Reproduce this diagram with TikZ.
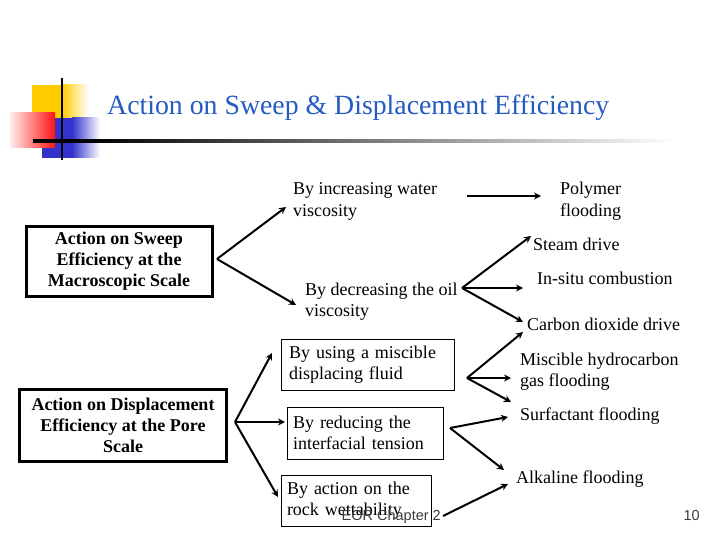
\documentclass[tikz,border=0pt]{standalone}
\usepackage{fontspec}
\setmainfont{Liberation Serif}
\newfontfamily\footfont{Liberation Sans}
\usetikzlibrary{arrows.meta}
\definecolor{titleblue}{RGB}{35,90,195}
\definecolor{logoyellow}{RGB}{255,204,0}
\definecolor{logoblue}{RGB}{51,51,204}
\definecolor{logored}{RGB}{255,20,20}
\definecolor{footgray}{RGB}{60,60,60}
\begin{document}
\begin{tikzpicture}[x=1pt,y=-1pt,
  txt/.style={anchor=base west, inner sep=0pt, align=left, font=\fontsize{18}{21}\selectfont},
  bigbox/.style={draw, line width=3pt, align=center, inner sep=0pt, font=\fontsize{18}{21}\selectfont\bfseries},
  smallbox/.style={draw, line width=1pt, align=left, inner ysep=0pt, font=\fontsize{18}{20.5}\selectfont},
  arr/.style={-{Stealth[length=7pt,width=7pt]}, line width=2pt},
  foot/.style={anchor=base east, inner sep=0pt, text=footgray, font=\footfont\fontsize{14.5}{17}\selectfont}]
\useasboundingbox (0,0) rectangle (720,540);
% logo
\fill[logoyellow] (32,85) rectangle (62,118);
\shade[left color=logoyellow, right color=white] (62,85) rectangle (88,118);
\fill[logoblue] (42,118) rectangle (72,158);
\shade[left color=logoblue, right color=white] (72,118) rectangle (100,158);
\shade[left color=logored!8, right color=logored] (10,113) rectangle (55,148);
\fill[black] (33,139.5) rectangle (90,143);
\shade[left color=black, right color=white] (90,139.5) rectangle (675,143);
\draw[line width=2.5pt, black] (62,78) -- (62,160);
% title
\node[anchor=base west, inner sep=0pt, text=titleblue, font=\fontsize{27.8}{32}\selectfont] (title) at (107,115) {Action on Sweep \& Displacement Efficiency};
% left boxes
\node[bigbox, minimum width=186pt, minimum height=70pt] (box1) at (119,261.5) {Action on Sweep\\Efficiency at the\\Macroscopic Scale};
\node[bigbox, minimum width=207pt, minimum height=72pt] (box2) at (123,425.5) {Action on Displacement\\Efficiency at the Pore\\Scale};
% middle texts (base = last line)
\node[txt] (incwater) at (293,216) {By increasing water\\viscosity};
\node[txt] (decoil) at (305,316) {By decreasing the oil\\viscosity};
\node[smallbox, inner xsep=8pt, text width=157pt, minimum height=51pt] (misc) at (367.5,364.5) {By using a miscible\\displacing fluid};
\node[smallbox, inner xsep=6pt, text width=144pt, minimum height=52pt] (ift) at (365,433) {By reducing the\\interfacial tension};
\node[smallbox, inner xsep=6pt, text width=138pt, minimum height=51pt] (wett) at (356,500.5) {By action on the\\rock wettability};
% right texts
\node[txt] (polymer) at (560,216) {Polymer\\flooding};
\node[txt] (steam) at (533,251) {Steam drive};
\node[txt] (insitu) at (537,284) {In-situ combustion};
\node[txt] (co2) at (527,330) {Carbon dioxide drive};
\node[txt] (mhc) at (520,386) {Miscible hydrocarbon\\gas flooding};
\node[txt] (surf) at (520,420) {Surfactant flooding};
\node[txt] (alk) at (516,483) {Alkaline flooding};
% footer
\node[foot] (footer) at (441,520) {EOR Chapter 2};
\node[foot] (pagenum) at (700,520) {10};
% branch points and arrow ends
\coordinate (o1) at (217,259);
\coordinate (o2) at (235,422);
\coordinate (oinc) at (467,196);
\coordinate (odec) at (462,288);
\coordinate (omisc) at (467,378);
\coordinate (oift) at (450,428);
\coordinate (owett) at (443,516);
\coordinate (tinc) at (286,207);
\coordinate (tdec) at (296,305);
\coordinate (tpoly) at (541,196);
\coordinate (tsteam) at (531,236);
\coordinate (tinsitu) at (523,288);
\coordinate (tco2) at (523,322);
\coordinate (tmisc) at (272,353);
\coordinate (tift) at (285,422);
\coordinate (twett) at (278,497);
\coordinate (tco2b) at (523,332);
\coordinate (tmhc) at (511,378);
\coordinate (tsurf) at (511,402);
\coordinate (tsurfb) at (508,417);
\coordinate (talk) at (504,470);
\coordinate (talkb) at (508,484);
% arrows
\draw[arr] (o1) -- (tinc);
\draw[arr] (o1) -- (tdec);
\draw[arr] (oinc) -- (tpoly);
\draw[arr] (odec) -- (tsteam);
\draw[arr] (odec) -- (tinsitu);
\draw[arr] (odec) -- (tco2);
\draw[arr] (o2) -- (tmisc);
\draw[arr] (o2) -- (tift);
\draw[arr] (o2) -- (twett);
\draw[arr] (omisc) -- (tco2b);
\draw[arr] (omisc) -- (tmhc);
\draw[arr] (omisc) -- (tsurf);
\draw[arr] (oift) -- (tsurfb);
\draw[arr] (oift) -- (talk);
\draw[arr] (owett) -- (talkb);
\end{tikzpicture}
\end{document}
